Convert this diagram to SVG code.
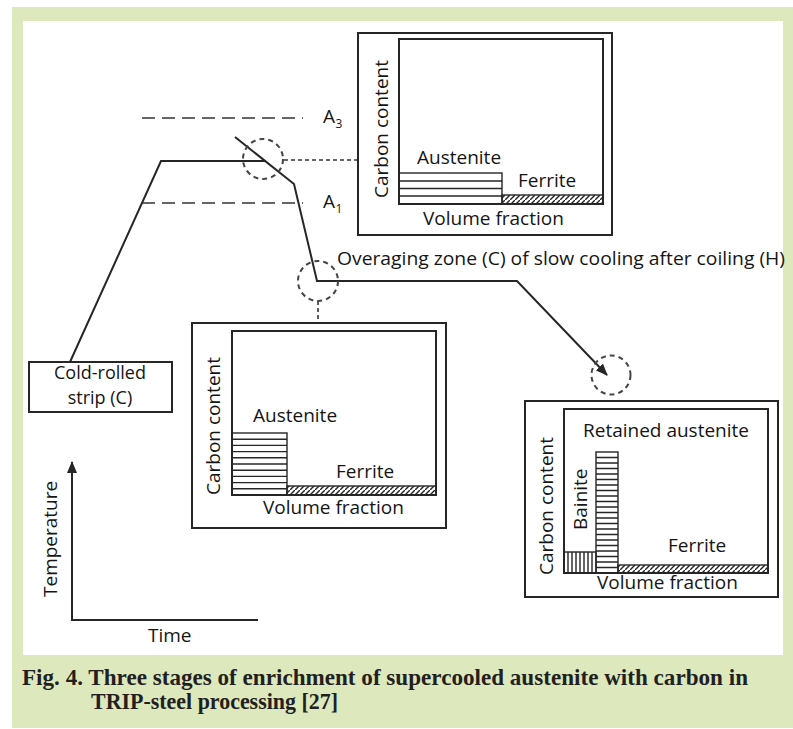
<svg xmlns="http://www.w3.org/2000/svg" width="793" height="729" viewBox="0 0 793 729">
<defs>
<style>
.ln{fill:none;stroke:#262626;stroke-width:2}
.thin{fill:none;stroke:#262626;stroke-width:1.4}
.dash{fill:none;stroke:#333;stroke-width:1.6;stroke-dasharray:13 7}
.dot{fill:none;stroke:#333;stroke-width:1.6;stroke-dasharray:4 3}
.circ{fill:none;stroke:#444;stroke-width:2;stroke-dasharray:5 4}
.t{font-family:"Open Sans","DejaVu Sans",sans-serif;font-size:19px;fill:#151515}
.s{font-family:"Open Sans","DejaVu Sans",sans-serif;font-size:18px;fill:#151515}
.sub{font-family:"Open Sans","DejaVu Sans",sans-serif;font-size:12px;fill:#151515}
.cap{font-family:"Liberation Serif","Times New Roman",serif;font-size:23.5px;font-weight:bold;fill:#231f20}
</style>
<pattern id="hatch" patternUnits="userSpaceOnUse" width="5" height="5">
<path d="M-1,6 L6,-1" stroke="#262626" stroke-width="1.4"/>
</pattern>
<marker id="arr" markerWidth="12" markerHeight="10" refX="11" refY="5" orient="auto" markerUnits="userSpaceOnUse">
<path d="M0,0 L12,5 L0,10 Z" fill="#262626"/>
</marker>
</defs>
<rect x="12" y="7" width="781" height="721" fill="#dde9bc"/>
<rect x="23" y="21" width="760" height="634" fill="#ffffff"/>

<g id="connectors">
<path class="ln" d="M70,362 L161,161 L266,161"/>
<path class="ln" d="M235,137 L294,184 L317,281 L517,281 L607,375" marker-end="url(#arr)"/>
<path class="dash" d="M142,118 H303"/>
<path class="dash" d="M142,203 H303"/>
<path class="dot" d="M284,160 H358"/>
<path class="dot" d="M318,301 V323"/>
<path class="ln" d="M72,620 V462" marker-end="url(#arr)"/>
<path class="ln" d="M71,620 H258"/>
</g>

<g id="circle1"><circle class="circ" cx="263" cy="159" r="20"/></g>
<g id="circle2"><circle class="circ" cx="318" cy="281" r="20"/></g>
<g id="circle3"><circle class="circ" cx="611" cy="375" r="19.5"/></g>

<g id="labels-temp">
<text class="t" x="323" y="123">A</text><text class="sub" x="335.5" y="128">3</text>
<text class="t" x="323" y="208">A</text><text class="sub" x="335.5" y="213">1</text>
<text class="t" x="337" y="265" textLength="448" lengthAdjust="spacingAndGlyphs">Overaging zone (C) of slow cooling after coiling (H)</text>
</g>

<g id="strip">
<rect class="ln" x="29" y="362" width="143" height="50"/>
<text class="s" x="100" y="379" text-anchor="middle">Cold-rolled</text>
<text class="s" x="100" y="404" text-anchor="middle">strip (C)</text>
</g>

<g id="axes">
<text class="t" transform="translate(57,597) rotate(-90)">Temperature</text>
<text class="t" x="148" y="642">Time</text>
</g>

<g id="box1">
<rect class="ln" x="358" y="33" width="254" height="202"/>
<rect class="ln" x="399" y="39" width="204" height="165"/>
<rect class="thin" x="399" y="173" width="103" height="31"/>
<path class="thin" d="M399,181 H502 M399,188.5 H502 M399,196 H502"/>
<rect x="502" y="195" width="101" height="9" fill="url(#hatch)" stroke="#262626" stroke-width="1.4"/>
<text class="t" x="417" y="164">Austenite</text>
<text class="t" x="518" y="187">Ferrite</text>
<text class="t" x="423" y="225">Volume fraction</text>
<text class="t" transform="translate(388,198) rotate(-90)">Carbon content</text>
</g>

<g id="box2">
<rect class="ln" x="192" y="323" width="254" height="205"/>
<rect class="ln" x="232" y="331" width="204" height="164"/>
<rect class="thin" x="232" y="433" width="55" height="62"/>
<path class="thin" d="M232,439.2 H287 M232,445.4 H287 M232,451.6 H287 M232,457.8 H287 M232,464 H287 M232,470.2 H287 M232,476.4 H287 M232,482.6 H287 M232,488.8 H287"/>
<rect x="287" y="486" width="149" height="9" fill="url(#hatch)" stroke="#262626" stroke-width="1.4"/>
<text class="t" x="253" y="422">Austenite</text>
<text class="t" x="336" y="478">Ferrite</text>
<text class="t" x="263" y="514">Volume fraction</text>
<text class="t" transform="translate(220,495) rotate(-90)">Carbon content</text>
</g>

<g id="box3">
<rect class="ln" x="525" y="401" width="253" height="196"/>
<rect class="ln" x="564" y="409" width="204" height="164"/>
<rect class="thin" x="596" y="452" width="22" height="121"/>
<path class="thin" d="M596,457.5 H618 M596,463 H618 M596,468.5 H618 M596,474 H618 M596,479.5 H618 M596,485 H618 M596,490.5 H618 M596,496 H618 M596,501.5 H618 M596,507 H618 M596,512.5 H618 M596,518 H618 M596,523.5 H618 M596,529 H618 M596,534.5 H618 M596,540 H618 M596,545.5 H618 M596,551 H618 M596,556.5 H618 M596,562 H618 M596,567.5 H618"/>
<rect class="thin" x="564" y="552" width="32" height="21"/>
<path class="thin" d="M568,552 V573 M572,552 V573 M576,552 V573 M580,552 V573 M584,552 V573 M588,552 V573 M592,552 V573"/>
<rect x="618" y="565" width="150" height="8" fill="url(#hatch)" stroke="#262626" stroke-width="1.4"/>
<text class="t" x="583" y="437">Retained austenite</text>
<text class="t" x="668" y="552">Ferrite</text>
<text class="t" x="597" y="589">Volume fraction</text>
<text class="t" transform="translate(553,575) rotate(-90)">Carbon content</text>
<text class="t" transform="translate(587,530) rotate(-90)">Bainite</text>
</g>

<g id="caption">
<text class="cap" x="22" y="685" textLength="726" lengthAdjust="spacingAndGlyphs">Fig. 4. Three stages of enrichment of supercooled austenite with carbon in</text>
<text class="cap" x="91" y="709" textLength="247" lengthAdjust="spacingAndGlyphs">TRIP-steel processing [27]</text>
</g>
</svg>
